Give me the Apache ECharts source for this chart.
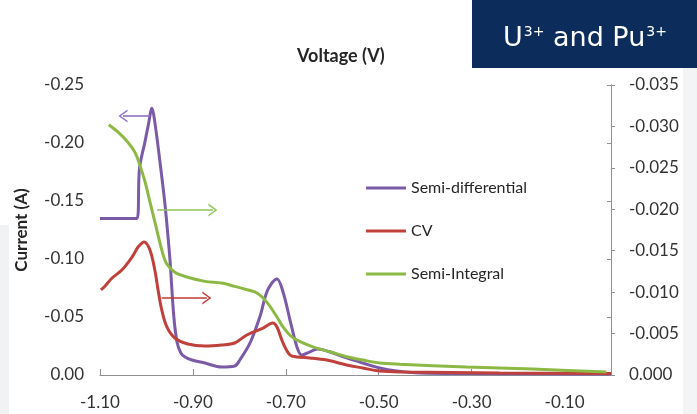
<!DOCTYPE html>
<html>
<head>
<meta charset="utf-8">
<script src="https://cdn.jsdelivr.net/npm/echarts@6/dist/echarts.min.js"></script>
<style>html,body{margin:0;padding:0;background:#fff}#c{width:697px;height:414px}</style>
</head>
<body>
<div id="c"></div>
<script>
// Semi-differential (left axis, A)
const sdVoltage = [-1.100,-1.060,-1.0204,-1.015,-1.0032,-0.996,-0.988,-0.982,-0.971,-0.960,-0.952,-0.949,-0.941,-0.934,-0.926,-0.917,-0.902,-0.874,-0.838,-0.810,-0.799,-0.777,-0.756,-0.739,-0.719,-0.706,-0.691,-0.676,-0.666,-0.653,-0.631,-0.605,-0.569,-0.534,-0.498,-0.461,-0.412,-0.300,-0.150,0.000];
const sdCurrent = [-0.135,-0.135,-0.135,-0.178,-0.201,-0.2155,-0.230,-0.218,-0.184,-0.1466,-0.112,-0.097,-0.050,-0.028,-0.019,-0.0155,-0.0129,-0.0103,-0.0069,-0.0078,-0.0129,-0.0276,-0.050,-0.0733,-0.0828,-0.0716,-0.0474,-0.0241,-0.0172,-0.019,-0.0224,-0.0198,-0.0147,-0.0103,-0.006,-0.0034,-0.0017,-0.0012,-0.001,-0.0008];
// CV (left axis, A)
const cvVoltage = [-1.098,-1.089,-1.074,-1.053,-1.031,-1.018,-1.005,-0.9925,-0.982,-0.975,-0.967,-0.956,-0.939,-0.911,-0.874,-0.838,-0.810,-0.784,-0.749,-0.728,-0.719,-0.706,-0.691,-0.676,-0.648,-0.612,-0.569,-0.534,-0.498,-0.448,-0.240,0.000];
const cvCurrent = [-0.0733,-0.0767,-0.0836,-0.0905,-0.1017,-0.1103,-0.1147,-0.1078,-0.0905,-0.0733,-0.056,-0.0414,-0.0319,-0.0267,-0.025,-0.0259,-0.0276,-0.0345,-0.0405,-0.0448,-0.0414,-0.0276,-0.0172,-0.0155,-0.0147,-0.0129,-0.0086,-0.006,-0.0034,-0.0026,-0.0017,-0.0013];
// Semi-Integral (right axis)
const siVoltage = [-1.081,-1.061,-1.040,-1.025,-1.014,-1.003,-0.9925,-0.982,-0.967,-0.957,-0.939,-0.911,-0.874,-0.838,-0.810,-0.784,-0.762,-0.741,-0.719,-0.706,-0.691,-0.676,-0.642,-0.605,-0.569,-0.534,-0.498,-0.455,-0.311,-0.169,-0.010];
const siCurrent = [-0.0302,-0.0293,-0.0281,-0.0269,-0.0253,-0.0233,-0.0209,-0.0185,-0.0151,-0.0135,-0.0124,-0.0118,-0.0113,-0.0111,-0.0107,-0.0103,-0.0099,-0.0088,-0.0070,-0.0058,-0.0048,-0.0042,-0.0034,-0.0028,-0.0022,-0.0018,-0.00145,-0.0013,-0.00097,-0.00072,-0.00036];
// Tick labels
const xTicks = [-1.1,-0.9,-0.7,-0.5,-0.3,-0.1];
const seriesNames = ['Semi-differential','CV','Semi-Integral'];
// Annotation arrows [fromV, toV, level]
const sdArrow = [-0.9925,-1.0505,-0.2233];
const siArrow = [-0.977,-0.857,-0.0199];
const cvArrow = [-0.967,-0.870,-0.0664];

const zip = (a,b) => a.map((v,i)=>[v,b[i]]);
const chevron = 'path://M0,10 L5,0 L10,10 L8.6,10 L5,2.6 L1.4,10 Z';
function arrowLine(a, color){
  return {
    silent: true, symbol: ['none', chevron], symbolSize: [13, 9],
    label: {show:false},
    lineStyle: {color: color, width: 1.6, type: 'solid'},
    emphasis: {disabled:true},
    data: [[{coord:[a[0],a[2]]},{coord:[a[1],a[2]]}]]
  };
}
const FONT = 'Lato, Carlito, "Liberation Sans", sans-serif';
const axisGray = '#8f8f8f';
const labelColor = '#333';

const chart = echarts.init(document.getElementById('c'), null, {renderer:'canvas'});
chart.setOption({
  animation: false,
  backgroundColor: '#ffffff',
  color: ['#7b5aa8','#c0403b','#8cb944'],
  title: {
    text: 'Voltage (V)', left: 292, top: 42,
    textStyle: {fontFamily: FONT, fontSize: 18, fontWeight: 'bold', color: '#262626'}
  },
  legend: {
    orient: 'vertical', left: 361, top: 173, itemGap: 23,
    itemWidth: 40, itemHeight: 3, icon: 'rect',
    data: seriesNames,
    textStyle: {fontFamily: FONT, fontSize: 16, color: '#262626', lineHeight: 20}
  },
  grid: {left: 100, right: 86, top: 85, bottom: 39},
  xAxis: {
    type: 'value', min: -1.1, max: 0,
    axisLine: {lineStyle: {color: axisGray, width: 1}},
    axisTick: {inside: true, length: 6, customValues: xTicks, lineStyle: {color: axisGray}},
    axisLabel: {customValues: xTicks, margin: 19, fontFamily: FONT, fontSize: 17, color: labelColor,
      formatter: v => v.toFixed(2)},
    splitLine: {show: false}
  },
  yAxis: [{
    type: 'value', min: -0.25, max: 0, interval: 0.05, inverse: true, position: 'left',
    name: 'Current (A)', nameLocation: 'middle', nameGap: 70, nameRotate: 90,
    nameTextStyle: {fontFamily: FONT, fontSize: 17, fontWeight: 'bold', color: '#262626'},
    axisLine: {show: true, lineStyle: {color: axisGray}},
    axisTick: {show: true, length: 4, lineStyle: {color: axisGray}},
    axisLabel: {margin: 16, fontFamily: FONT, fontSize: 17, color: labelColor, formatter: v => v.toFixed(2)},
    splitLine: {show: false}
  },{
    type: 'value', min: -0.035, max: 0, interval: 0.005, inverse: true, position: 'right',
    axisLine: {show: true, lineStyle: {color: axisGray}},
    axisTick: {show: true, length: 4, lineStyle: {color: axisGray}},
    axisLabel: {margin: 18, fontFamily: FONT, fontSize: 17, color: labelColor, formatter: v => v.toFixed(3)},
    splitLine: {show: false}
  }],
  series: [{
    name: seriesNames[0], type: 'line', yAxisIndex: 0, showSymbol: false, smooth: 0.35,
    lineStyle: {width: 3}, data: zip(sdVoltage, sdCurrent), z: 3,
    markLine: arrowLine(sdArrow, '#8e72c4')
  },{
    name: seriesNames[1], type: 'line', yAxisIndex: 0, showSymbol: false, smooth: 0.35,
    lineStyle: {width: 3}, data: zip(cvVoltage, cvCurrent), z: 4,
    markLine: arrowLine(cvArrow, '#c23a35')
  },{
    name: seriesNames[2], type: 'line', yAxisIndex: 1, showSymbol: false, smooth: 0.35,
    lineStyle: {width: 3}, data: zip(siVoltage, siCurrent), z: 5,
    markLine: arrowLine(siArrow, '#8cc45a')
  }],
  graphic: [
    {type: 'rect', left: 683, top: 68, shape: {width: 14, height: 346}, style: {fill: '#f3f4f6'}, z: -10},
    {type: 'rect', left: 0, top: 225, shape: {width: 9, height: 189}, style: {fill: '#f1f2f4'}, z: -10},
    {type: 'rect', left: 472, top: 0, shape: {width: 225, height: 68}, style: {fill: '#0c2d5c'}, z: 10},
    {type: 'text', left: 503, top: 18, z: 11, style: {
      text: '{m|U}{s|3+}{m| and Pu}{s|3+}',
      rich: {
        m: {fontFamily: '"DejaVu Sans", Verdana, sans-serif', fontSize: 27, fill: '#ffffff', color: '#ffffff', verticalAlign: 'bottom', lineHeight: 34},
        s: {fontFamily: '"DejaVu Sans", Verdana, sans-serif', fontSize: 14, fill: '#ffffff', color: '#ffffff', verticalAlign: 'top', lineHeight: 34, padding: [7,0,0,1]}
      }
    }}
  ]
});
</script>
</body>
</html>
